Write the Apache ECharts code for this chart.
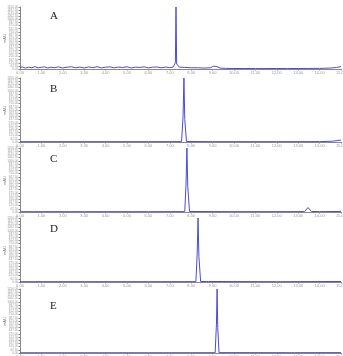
<!DOCTYPE html>
<html><head><meta charset="utf-8">
<script src="https://cdn.jsdelivr.net/npm/echarts@6/dist/echarts.min.js"></script>
<style>html,body{margin:0;padding:0;background:#fff}#c{width:343px;height:356px}</style>
</head><body><div id="c"></div>
<script>
const panelNames = ['A','B','C','D','E'];
const xTicks = [0,1,2,3,4,5,6,7,8,9,10,11,12,13,14,15];
const timeA = [0,0.1,0.25,0.4,0.55,0.7,0.85,1.0,1.15,1.3,1.45,1.6,1.8,2.0,2.2,2.4,2.6,2.8,3.0,3.2,3.4,3.6,3.8,4.0,4.2,4.4,4.6,4.8,5.0,5.2,5.4,5.6,5.8,6.0,6.2,6.4,6.6,6.8,7.0,7.15,7.26,7.29,7.32,7.45,7.7,8.0,8.3,8.6,8.9,9.05,9.12,9.2,9.35,9.6,10,10.5,11,11.5,12,12.5,13,13.5,14,14.5,14.8,15];
const valA  = [2,3.5,1.5,3,2,3.8,1.8,2.8,3.5,1.6,3,2.2,3.4,1.7,2.9,3.6,2,3.1,1.6,3.3,2.2,3.7,1.8,2.9,3.4,1.9,3.2,2.4,3.6,1.7,3,2.5,3.5,1.8,2.9,3.3,2,3.1,2.2,3,10,100,8,3,2.5,2,2,1.5,2,4.5,6,4,1.5,1,0.8,0.8,0.7,0.7,0.8,0.7,0.8,0.9,1,1.5,2.5,4];
const timeB = [0,3,6,7.55,7.62,7.66,7.70,7.78,9,12,14,14.6,15];
const valB  = [0.5,0.5,0.5,0.6,40,100,35,0.8,0.5,0.5,0.6,1.2,3];
const timeC = [0,3,6,7.70,7.76,7.80,7.84,7.92,10,13.3,13.46,13.62,14,15];
const valC  = [0.5,0.5,0.5,0.6,45,100,40,0.8,0.5,0.6,7,0.8,0.6,0.8];
const timeD = [0,3,6,8.22,8.28,8.32,8.36,8.44,8.70,8.76,8.82,12,15];
const valD  = [0.5,0.5,0.5,0.6,45,100,40,0.8,0.8,2,0.8,0.5,0.8];
const timeE = [0,3,6,9.12,9.18,9.21,9.24,9.30,12.7,12.76,12.82,15];
const valE  = [0.4,0.4,0.4,0.5,45,100,40,0.6,0.5,1.2,0.5,0.6];
const peakTimes = [7.29,7.66,7.80,8.32,9.21];
const yTicksMax = 100;

const times = [timeA,timeB,timeC,timeD,timeE];
const vals = [valA,valB,valC,valD,valE];
const tops = [7,78,148,218,289];
const heights = [62,64,64,64,64];

const grids=[],xAxes=[],yAxes=[],series=[],graphics=[];
for(let i=0;i<5;i++){
  grids.push({left:20,right:2,top:tops[i],height:heights[i],containLabel:false,outerBoundsMode:'none'});
  xAxes.push({type:'value',gridIndex:i,min:0,max:15,interval:1,
    axisLine:{lineStyle:{color:'#888',width:1}},
    axisTick:{length:1.5,lineStyle:{color:'#888'}},
    axisLabel:{fontSize:4,color:'#999',margin:2,formatter:v=>v.toFixed(2)},
    splitLine:{show:false}});
  yAxes.push({type:'value',gridIndex:i,min:0,max:yTicksMax,interval:5,
    axisLine:{show:true,lineStyle:{color:'#888',width:1}},
    axisTick:{show:true,length:1.5,lineStyle:{color:'#888'}},
    axisLabel:{fontSize:3,color:'#999',margin:2,formatter:v=>(v*12.5).toFixed(2)},
    splitLine:{show:false}});
  const data = times[i].map((t,k)=>{
    const pt = {value:[t,vals[i][k]]};
    if(t===peakTimes[i]) pt.label={show:true,position:'top',distance:1,fontSize:4,color:'#999',formatter:t.toFixed(3)};
    return pt;
  });
  series.push({type:'line',xAxisIndex:i,yAxisIndex:i,data:data,showSymbol:false,symbol:'none',
    lineStyle:{color:'#4c4cd4',width:1},animation:false,
    label:{show:false}});
  graphics.push({type:'text',left:50,top:tops[i]+(i===0?4:i===4?12:6),
    style:{text:panelNames[i],font:'11px "Liberation Serif", "DejaVu Serif", serif',fill:'#222'}});
  graphics.push({type:'text',rotation:Math.PI/2,x:3,y:tops[i]+heights[i]/2+5,
    style:{text:'mAU',font:'4px sans-serif',fill:'#777'}});
}
const chart = echarts.init(document.getElementById('c'));
chart.setOption({animation:false,grid:grids,xAxis:xAxes,yAxis:yAxes,series:series,graphic:graphics});
</script></body></html>
